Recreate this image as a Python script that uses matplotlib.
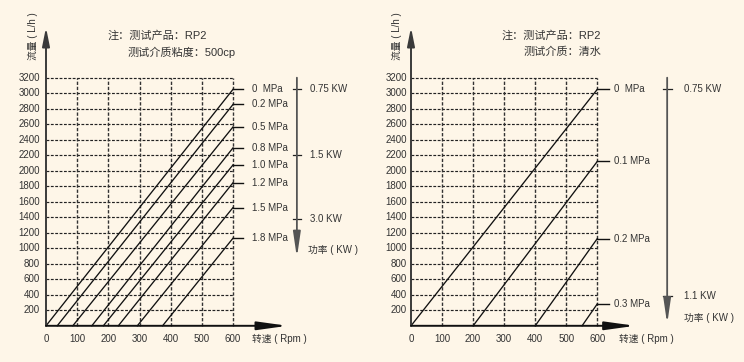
import matplotlib
matplotlib.use("Agg")
import matplotlib.pyplot as plt

plt.rcParams['font.family'] = ['Liberation Sans', 'Noto Sans CJK SC']

BG = '#FEF6E8'
TXT = '#333333'

# ---- data ----
x_ticks = [0, 100, 200, 300, 400, 500, 600]
y_ticks = [200, 400, 600, 800, 1000, 1200, 1400, 1600, 1800, 2000, 2200, 2400, 2600, 2800, 3000, 3200]

left_labels = ['0  MPa', '0.2 MPa', '0.5 MPa', '0.8 MPa', '1.0 MPa', '1.2 MPa', '1.5 MPa', '1.8 MPa']
left_start_rpm = [0, 36, 86, 147, 184, 232, 293, 374]
left_end_flow = [3050, 2855, 2565, 2295, 2075, 1845, 1525, 1130]
left_power_labels = ['0.75 KW', '1.5 KW', '3.0 KW']
left_power_flow = [3050, 2205, 1375]
left_notes = ['注：测试产品：RP2', '测试介质粘度：500cp']

right_labels = ['0  MPa', '0.1 MPa', '0.2 MPa', '0.3 MPa']
right_start_rpm = [0, 200, 400, 551]
right_end_flow = [3050, 2120, 1125, 283]
right_power_labels = ['0.75 KW', '1.1 KW']
right_power_flow = [3050, 385]
right_notes = ['注：测试产品：RP2', '测试介质：清水']

fig = plt.figure(figsize=(7.44, 3.62), dpi=100, facecolor=BG)

W, H = 744.0, 362.0


def panel(x0px, x600px, labels, starts, ends, plabels, pflows, notes, cfg):
    ax = fig.add_axes([x0px / W, (H - 325.8) / H, (x600px - x0px) / W, 248.1 / H])
    ax.set_xlim(0, 600)
    ax.set_ylim(0, 3200)
    ax.axis('off')
    ax.set_facecolor(BG)
    dash = (0, (2.4, 1.3))
    for yv in y_ticks:
        ax.plot([0, 600], [yv, yv], color='#222222', lw=0.85, ls=dash, clip_on=False)
    for xv in x_ticks[1:]:
        ax.plot([xv, xv], [0, 3200], color='#333333', lw=1.0, ls=dash, clip_on=False)
    # data lines
    for lab, s, e in zip(labels, starts, ends):
        ax.plot([s, 600], [0, e], color='#111111', lw=0.95, clip_on=False)
        ax.plot([600, cfg['seg_end']], [e, e], color='#111111', lw=1.0, clip_on=False)
        ax.text(cfg['lab_x'], e, lab, fontsize=7, color=TXT, va='center', ha='left')
    # axes arrows
    ax.annotate('', xy=(0, 3850), xytext=(0, 0), annotation_clip=False,
                arrowprops=dict(arrowstyle='-|>,head_length=1.1,head_width=0.22',
                                lw=1.4, color='#3a3a3a', shrinkA=0, shrinkB=0))
    ax.annotate('', xy=(cfg['xarrow'], 0), xytext=(0, 0), annotation_clip=False,
                arrowprops=dict(arrowstyle='-|>,head_length=1.8,head_width=0.25',
                                lw=1.4, color='#111111', shrinkA=0, shrinkB=0))
    # tick labels
    for yv in y_ticks:
        ax.text(cfg['ytl_x'], yv, str(yv), fontsize=7, color=TXT, ha='right', va='center')
    for xv in x_ticks:
        ax.text(xv, -175, str(xv), fontsize=7, color=TXT, ha='center', va='center')
    ax.text(cfg['xlab_x'], -175, '转速 ( Rpm )', fontsize=7, color=TXT, ha='left', va='center')
    ax.text(cfg['ylab_x'], 3730, '流量 ( L/h )', fontsize=7, color=TXT, ha='center',
            va='center', rotation=90)
    # power axis
    px = cfg['px']
    ax.annotate('', xy=(px, cfg['ptip']), xytext=(px, 3200), annotation_clip=False,
                arrowprops=dict(arrowstyle='-|>,head_length=1.5,head_width=0.22',
                                lw=1.3, color='#555555', shrinkA=0, shrinkB=0))
    for lab, f in zip(plabels, pflows):
        ax.plot([px - 14, px + 14], [f, f], color='#222222', lw=0.9, clip_on=False)
        ax.text(cfg['pl_x'], f, lab, fontsize=7, color=TXT, ha='left', va='center')
    ax.text(cfg['pt_x'], cfg['pt_y'], '功率 ( KW )', fontsize=7, color=TXT, ha='left', va='center')
    # notes
    ax.text(cfg['n1'][0], cfg['n1'][1], notes[0], fontsize=8, color=TXT, ha='left', va='center')
    ax.text(cfg['n2'][0], cfg['n2'][1], notes[1], fontsize=8, color=TXT, ha='left', va='center')
    return ax


panel(46, 233, left_labels, left_start_rpm, left_end_flow, left_power_labels, left_power_flow,
      left_notes,
      dict(seg_end=633, lab_x=661, xarrow=775, ytl_x=-19, xlab_x=661, ylab_x=-42,
           px=805, ptip=880, pl_x=847, pt_x=840, pt_y=975,
           n1=(196, 3740), n2=(263, 3532)))

panel(411, 597.3, right_labels, right_start_rpm, right_end_flow, right_power_labels,
      right_power_flow, right_notes,
      dict(seg_end=637, lab_x=655, xarrow=722, ytl_x=-13, xlab_x=669, ylab_x=-45,
           px=825, ptip=25, pl_x=878, pt_x=878, pt_y=105,
           n1=(293, 3740), n2=(363, 3532)))

fig.savefig('out.png', dpi=100, facecolor=BG)
